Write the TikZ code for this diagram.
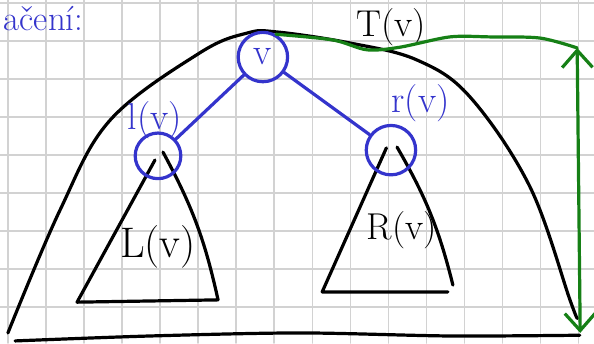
\documentclass[tikz,border=0pt]{standalone}
\usetikzlibrary{arrows.meta}
\definecolor{inkblue}{RGB}{52,52,204}
\definecolor{inkgreen}{RGB}{22,128,22}
\begin{document}
\begin{tikzpicture}[x=1cm,y=-1cm,line join=round,line cap=round,
	ink/.style={line width=2.4pt},
	vert/.style={circle,draw=inkblue,ink,inner sep=0pt,minimum size=1.3cm,text=inkblue,font=\fontsize{28}{32}\selectfont},
	lab/.style={font=\fontsize{28}{32}\selectfont},
	barb/.tip={Straight Barb[length=4.5mm,width=8mm]}]
	\useasboundingbox (-0.218,-0.071) rectangle (15.413,8.955);
	\draw[gray!35,line width=1.2pt] (-0.218,-0.071) grid (15.413,8.955);
	\draw[ink] plot[smooth,tension=0.6] coordinates {(-0.01,8.69) (1.36,5.46) (2.68,3.09) (5.04,1.32) (6.28,0.80) (7.07,0.77) (8.99,1.06) (10.76,1.51) (12.15,2.48) (13.73,4.85) (14.78,7.82) (14.97,8.30)};
	\draw[ink] plot[smooth] coordinates {(0.18,8.90) (3.73,8.77) (7.68,8.69) (11.62,8.77) (15.04,8.75)};
	\draw[ink] (3.86,4.14) -- (1.81,7.88) -- (5.52,7.82) (4.07,3.93) to[bend left=8] (5.52,7.82);
	\draw[ink] (9.95,3.82) -- (8.26,7.61) -- (11.57,7.61) (10.23,3.80) to[bend left=8] (11.70,7.43);
	\node[vert] (v) at (6.70,1.43) {v};
	\node[vert,minimum size=1.2cm] (lv) at (3.94,4.03) {};
	\node[vert] (rv) at (10.07,3.88) {};
	\draw[inkblue,ink] (v) -- (lv);
	\draw[inkblue,ink] (v) -- (rv);
	\node[lab,text=inkblue] (lvlab) at (3.86,3.10) {l(v)};
	\node[lab,text=inkblue] (rvlab) at (10.85,2.65) {r(v)};
	\node[lab] (tlab) at (10.07,0.65) {T(v)};
	\node[lab,font=\fontsize{32}{36}\selectfont] (llab) at (3.94,6.43) {L(v)};
	\node[lab] (rlab) at (10.36,5.98) {R(v)};
	\node[lab,text=inkblue,font=\fontsize{26}{30}\selectfont,anchor=west] (title) at (-0.24,0.42) {ačení:};
	\coordinate (top) at (14.97,1.19);
	\coordinate (bot) at (15.05,8.69);
	\draw[inkgreen,ink] plot[smooth] coordinates {(v.60) (8.54,0.98) (9.44,1.24) (10.31,1.17) (11.62,0.90) (12.68,0.90) (13.99,0.93) (top)};
	\draw[inkgreen,ink,barb-barb] (top) -- (bot);
\end{tikzpicture}
\end{document}
